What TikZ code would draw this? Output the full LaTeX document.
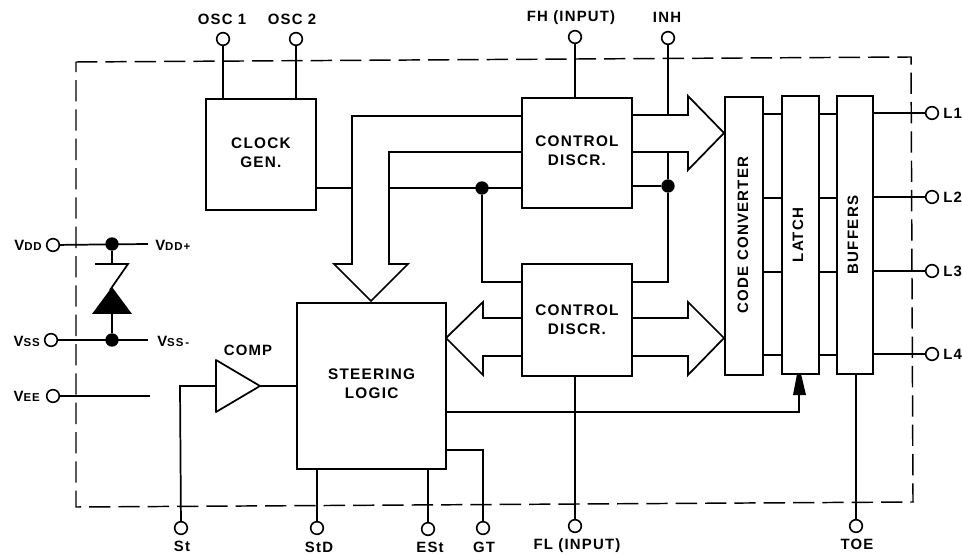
\documentclass[tikz,border=0pt]{standalone}
\usepackage{fontspec}
\setmainfont{Liberation Sans}[LetterSpace=8]
\usetikzlibrary{arrows.meta}
\tikzset{
  ln/.style={draw=black,line width=1.3pt,line join=miter},
  blk/.style={draw=black,line width=1.4pt,fill=white,inner sep=0pt,anchor=north west,align=center,font=\bfseries\fontsize{11.5}{14.2}\selectfont},
  pin/.style={circle,draw=black,line width=1.2pt,fill=white,minimum size=9.5pt,inner sep=0pt},
  dot/.style={circle,fill=black,minimum size=10pt,inner sep=0pt},
  lab/.style={inner sep=0pt,font=\bfseries\fontsize{11.2}{13}\selectfont},
  vlab/.style={inner sep=0pt,rotate=90,font=\bfseries\fontsize{11.3}{14}\selectfont},
  frame/.style={draw=black,line width=1.1pt,dash pattern=on 16pt off 6pt}
}
\newcommand{\sm}[1]{{\fontsize{8.6}{10}\selectfont #1}}
\begin{document}
\begin{tikzpicture}[x=0.75pt,y=-0.75pt]
\useasboundingbox (0,0) rectangle (962,555);
\draw[frame] (76,62) -- (911,57) -- (913,502) -- (76,507) -- cycle;
% blocks
\node[blk,minimum width=82.5pt,minimum height=83.25pt,text depth=3pt] (clk) at (205,98) {CLOCK\\GEN.};
\node[blk,minimum width=82.5pt,minimum height=82.5pt,text depth=3pt] (cd1) at (521,97) {CONTROL\\DISCR.};
\node[blk,minimum width=82.5pt,minimum height=84pt] (cd2) at (521,263) {CONTROL\\DISCR.};
\node[blk,minimum width=112pt,minimum height=124.5pt,text depth=3pt] (st) at (296,302) {STEERING\\LOGIC};
\node[blk,minimum width=28.5pt,minimum height=208.5pt] (cc) at (724,96) {};
\node[blk,minimum width=27.75pt,minimum height=208.5pt] (la) at (781,95) {};
\node[blk,minimum width=27pt,minimum height=208.5pt] (bu) at (836,95) {};
\node[vlab] (tcc) at (743,235) {CODE CONVERTER};
\node[vlab] (tla) at (798,235) {LATCH};
\node[vlab] (tbu) at (853,235) {BUFFERS};
% coordinates
\coordinate (ah) at (371,301);
\coordinate (rt1) at (724,133);
\coordinate (rt2) at (724,338);
\coordinate (lf) at (446,338);
% big arrows
\draw[ln] (cd1.west |- 0,116) -- (352,116) -- (352,264) -- (334,264) -- (ah) -- (408,264) -- (389,264) -- (389,152) -- (cd1.west |- 0,152);
\draw[ln] (cd1.east |- 0,115) -- (688,115) -- (688,96) -- (rt1) -- (688,170) -- (688,152) -- (cd1.east |- 0,152);
\draw[ln] (cd2.east |- 0,318) -- (688,318) -- (688,302) -- (rt2) -- (688,375) -- (688,356) -- (cd2.east |- 0,356);
\draw[ln] (cd2.west |- 0,318) -- (483,318) -- (483,302) -- (lf) -- (483,375) -- (483,356) -- (cd2.west |- 0,356);
% clock link
\draw[ln] (clk.east |- 0,188) -- (352,188);
\draw[ln] (389,188) -- (cd1.west |- 0,188);
\node[dot] (j1) at (482,188) {};
\node[dot] (j2) at (668,186) {};
\draw[ln] (j1) -- (482,282) -- (cd2.west |- 0,282);
\draw[ln] (cd1.east |- 0,186) -- (j2);
\draw[ln] (668,152) -- (j2) -- (668,282) -- (cd2.east |- 0,282);
% top pins
\node[pin] (o1) at (223,39) {};
\node[pin] (o2) at (296,39) {};
\node[pin] (fh) at (575,37) {};
\node[pin] (inh) at (668,38) {};
\draw[ln] (o1) -- (o1 |- clk.north);
\draw[ln] (o2) -- (o2 |- clk.north);
\draw[ln] (fh) -- (fh |- cd1.north);
\draw[ln] (inh) -- (668,115);
\node[lab] (to1) at (222,19) {OSC 1};
\node[lab] (to2) at (292,19) {OSC 2};
\node[lab] (tfh) at (571,18) {FH (INPUT)};
\node[lab] (tin) at (667,17) {INH};
% outputs
\foreach \y/\p/\n in {114/113/1,198/197/2,272/271/3,355/354/4}{
  \draw[ln] (cc.east |- 0,\y) -- (la.west |- 0,\y);
  \draw[ln] (la.east |- 0,\y) -- (bu.west |- 0,\y);
  \node[pin] (l\n) at (932,\p) {};
  \draw[ln] (bu.east |- 0,\p) -- (l\n);
  \node[lab,anchor=west] (tl\n) at (943,\p) {L\n};
}
% power
\node[pin] (vdd) at (53,245) {};
\node[pin] (vss) at (51,340) {};
\node[pin] (vee) at (53,396) {};
\coordinate (vddr) at (148,244);
\coordinate (vssr) at (148,340);
\coordinate (veer) at (150,396);
\draw[ln] (vdd) -- (vddr);
\draw[ln] (vss) -- (vssr);
\draw[ln] (vee) -- (veer);
\node[dot] (dd) at (112,244) {};
\node[dot] (ds) at (112,340) {};
\draw[ln] (dd) -- (112,264);
\draw[ln] (95,264) -- (128,264) -- (110,290);
\fill (112,287) -- (92,314) -- (132,314) -- cycle;
\draw[ln] (112,314) -- (ds);
\node[lab,anchor=east] (tvdd) at (42,245) {V\sm{DD}};
\node[lab,anchor=east] (tvss) at (40,341) {V\sm{SS}};
\node[lab,anchor=east] (tvee) at (40,396) {V\sm{EE}};
\node[lab,anchor=west] (tvdp) at (155,245) {V\sm{DD+}};
\node[lab,anchor=west] (tvsm) at (157,341) {V\sm{SS\,-}};
% comp
\coordinate (ci) at (216,386);
\coordinate (co) at (260,386);
\draw[ln,fill=white,line join=round] (216,360) -- (co) -- (216,412) -- cycle;
\node[lab] (tcomp) at (248,350) {COMP};
\draw[ln] (co) -- (st.west |- 0,386);
\node[pin] (s1) at (181,528) {};
\draw[ln] (ci) -- (180,386) -- (s1);
\node[lab] (ts1) at (182,546.5) {St};
% bottom pins
\node[pin] (std) at (317,528) {};
\node[pin] (est) at (428,529) {};
\node[pin] (gt) at (483,528) {};
\node[pin] (fl) at (575,526) {};
\node[pin] (toe) at (856,526) {};
\draw[ln] (std) -- (std |- st.south);
\draw[ln] (est) -- (est |- st.south);
\draw[ln] (st.east |- 0,450) -- (483,450) -- (gt);
\draw[ln] (fl) -- (fl |- cd2.south);
\draw[ln] (toe) -- (toe |- bu.south);
\node[lab] (tstd) at (319,547) {StD};
\node[lab] (test) at (430,547) {ESt};
\node[lab] (tgt) at (484,547) {GT};
\node[lab] (tfl) at (577,546) {FL (INPUT)};
\node[lab] (ttoe) at (857,544) {TOE};
% latch strobe
\draw[ln] (st.east |- 0,412) -- (799,412) -- (799,395);
\fill (797,374) -- (801,374) -- (806,395) -- (793,395) -- cycle;
\end{tikzpicture}
\end{document}
